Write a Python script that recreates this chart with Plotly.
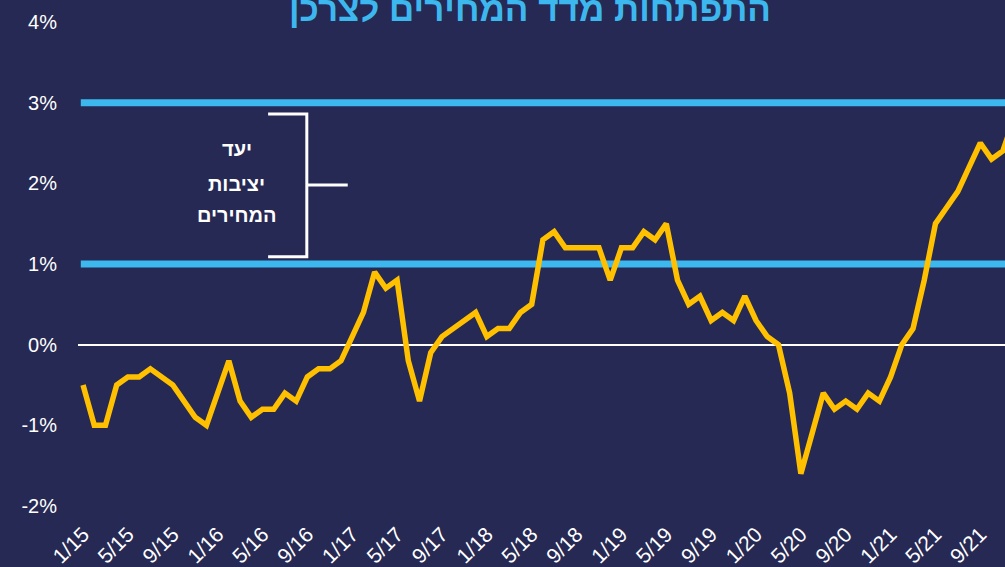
import plotly.graph_objects as go

# Monthly CPI change (%), 1/2015 - 12/2021
months = [f"{m}/{y}" for y in range(15, 22) for m in range(1, 13)]
cpi = [
    -0.5, -1.0, -1.0, -0.5, -0.4, -0.4, -0.3, -0.4, -0.5, -0.7, -0.9, -1.0,
    -0.6, -0.2, -0.7, -0.9, -0.8, -0.8, -0.6, -0.7, -0.4, -0.3, -0.3, -0.2,
    0.1, 0.4, 0.9, 0.7, 0.8, -0.2, -0.7, -0.1, 0.1, 0.2, 0.3, 0.4,
    0.1, 0.2, 0.2, 0.4, 0.5, 1.3, 1.4, 1.2, 1.2, 1.2, 1.2, 0.8,
    1.2, 1.2, 1.4, 1.3, 1.5, 0.8, 0.5, 0.6, 0.3, 0.4, 0.3, 0.6,
    0.3, 0.1, 0.0, -0.6, -1.6, -1.1, -0.6, -0.8, -0.7, -0.8, -0.6, -0.7,
    -0.4, 0.0, 0.2, 0.8, 1.5, 1.7, 1.9, 2.2, 2.5, 2.3, 2.4, 2.8,
]
x_ticks = months[::4]
y_ticks = [-2, -1, 0, 1, 2, 3, 4]
y_tick_labels = [f"{v}%" for v in y_ticks]
target_band = [1, 3]

BG = "#262954"
BLUE = "#3db8ee"
YELLOW = "#ffc000"
FONT = "Liberation Sans, Arial, sans-serif"

fig = go.Figure()
fig.add_trace(go.Scatter(
    x=months, y=cpi, mode="lines",
    line=dict(color=YELLOW, width=5.5),
    hoverinfo="skip", showlegend=False,
))

for lvl in target_band:
    fig.add_shape(type="line", xref="paper", yref="y", x0=0.003, x1=1, y0=lvl, y1=lvl,
                  line=dict(color=BLUE, width=7), layer="below")

# bracket
fig.add_shape(type="path", xref="x", yref="y",
              path="M 16.5,2.86 L 19.95,2.86 L 19.95,1.09 L 16.5,1.09",
              line=dict(color="white", width=3))
fig.add_shape(type="line", xref="x", yref="y", x0=19.95, x1=23.6, y0=1.98, y1=1.98,
              line=dict(color="white", width=3))

for txt, yv in [("יעד", 2.43), ("יציבות", 1.99), ("המחירים", 1.61)]:
    fig.add_annotation(x=13.7, y=yv, xref="x", yref="y", text=f"<b>{txt}</b>",
                       showarrow=False, font=dict(family=FONT, size=20, color="white"))

fig.add_annotation(x=0.4876, y=1.0285, xref="paper", yref="paper", yanchor="middle",
                   text="<b>התפתחות מדד המחירים לצרכן</b>", showarrow=False,
                   font=dict(family=FONT, size=35, color=BLUE))

fig.update_layout(
    width=1005, height=567,
    margin=dict(l=78, r=0, t=22, b=61),
    paper_bgcolor=BG, plot_bgcolor=BG,
    font=dict(family=FONT, color="white"),
    xaxis=dict(type="category", range=[-0.45, 82.2], tickmode="array",
               tickvals=x_ticks, ticktext=x_ticks, tickangle=-45,
               showgrid=False, zeroline=False, showline=False, automargin=False,
               ticks="", ticklabelstandoff=11,
               tickfont=dict(size=21, color="white")),
    yaxis=dict(range=[-2, 4], tickmode="array", tickvals=y_ticks, ticktext=y_tick_labels,
               showgrid=False, zeroline=True, zerolinecolor="white", zerolinewidth=2,
               showline=False, ticks="", ticklabelstandoff=20, automargin=False,
               tickfont=dict(size=20, color="white")),
)

fig.write_html(
    "out.html",
    config={"displayModeBar": False},
    post_script="document.body.style.margin='0';document.body.style.overflow='hidden';"
                "document.body.style.background='" + BG + "';",
)
